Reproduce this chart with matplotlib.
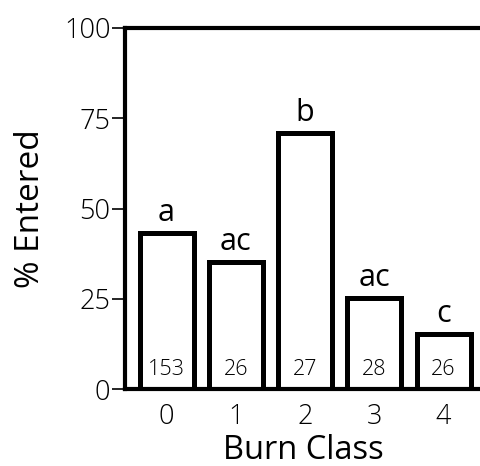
import matplotlib.pyplot as plt

burn_class = ["0", "1", "2", "3", "4"]
pct_entered = [43.2, 35.2, 70.9, 25.2, 15.2]
group_letters = ["a", "ac", "b", "ac", "c"]
sample_sizes = ["153", "26", "27", "28", "26"]

plt.rcParams["font.family"] = ["Open Sans", "DejaVu Sans"]
plt.rcParams["font.weight"] = "light"

fig = plt.figure(figsize=(4.81, 4.66), dpi=100)
ax = fig.add_axes([125 / 481, 1 - 389 / 466, 1 - 125 / 481, (389 - 28) / 466])

x = range(len(burn_class))
ax.bar(x, pct_entered, width=0.78, facecolor="white", edgecolor="black",
       linewidth=3.6)

for i, (v, lab, n) in enumerate(zip(pct_entered, group_letters, sample_sizes)):
    ax.text(i, v + 3.3, lab, ha="center", va="baseline", fontsize=22,
            fontweight="normal")
    ax.text(i, 5.5, n, ha="center", va="center", fontsize=15.5)

ax.set_xlim(-0.6, 4.54)
ax.set_ylim(0, 100)
ax.set_yticks([0, 25, 50, 75, 100])
ax.set_xticks(list(x))
ax.set_xticklabels(burn_class)
ax.tick_params(axis="y", length=9.5, width=1.2, labelsize=19.5, pad=1)
ax.tick_params(axis="x", length=0, labelsize=19.5, pad=10)
ax.spines["right"].set_visible(False)
for s in ["left", "top", "bottom"]:
    ax.spines[s].set_linewidth(3)
ax.set_xlabel("Burn Class", fontsize=23.5, labelpad=2)
ax.set_ylabel("% Entered", fontsize=24, labelpad=12)

fig.savefig("out.png", dpi=100)
